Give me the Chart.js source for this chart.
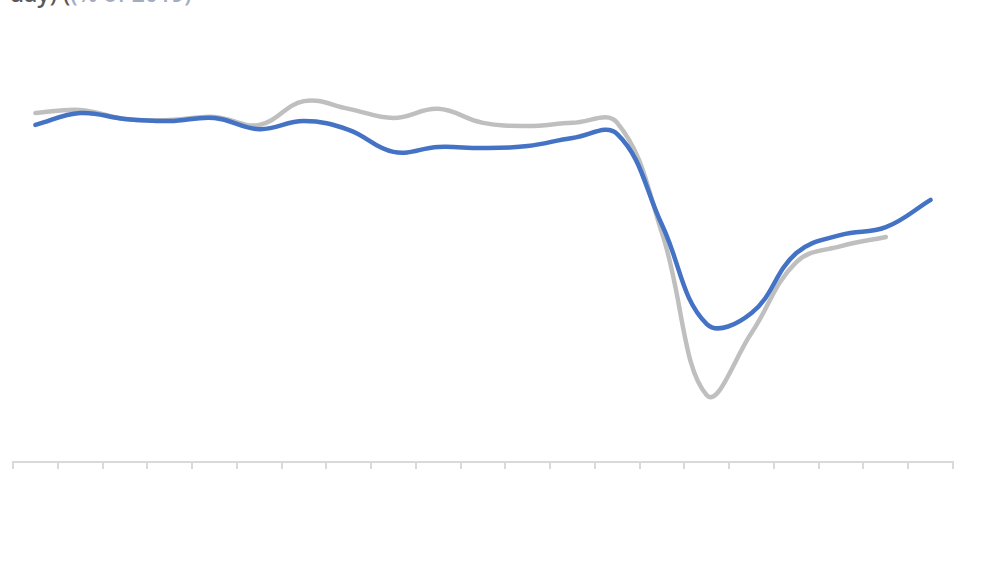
<!DOCTYPE html>
<html>
<head>
<meta charset="utf-8">
<script src="https://cdn.jsdelivr.net/npm/chart.js@4.4.1/dist/chart.umd.min.js"></script>
<style>
    html, body { margin: 0; padding: 0; background: #fff; overflow: hidden; }
    #wrap { position: relative; width: 1000px; height: 575px; }
    #title {
        position: absolute; left: -112px; top: -23px; white-space: nowrap;
        font-family: 'Open Sans', 'Noto Sans', sans-serif; font-size: 23px; font-weight: 600;
        color: #595959;
    }
    #title .sub { color: #a3adbf; }
    canvas { position: absolute; left: 0; top: 0; }
</style>
</head>
<body>
<div id="wrap">
    <div id="title">Diners per day) (<span class="sub">(% of 2019)</span></div>
    <canvas id="chart" width="1000" height="575"></canvas>
</div>
<script>
// 21 periods, no axis labels shown in the reference
const categories = ['P1', 'P2', 'P3', 'P4', 'P5', 'P6', 'P7', 'P8', 'P9', 'P10', 'P11',
    'P12', 'P13', 'P14', 'P15', 'P16', 'P17', 'P18', 'P19', 'P20', 'P21'];

const blueSeries = [96.3, 99.7, 98.0, 97.4, 98.3, 95.1, 97.4, 94.9, 88.6, 90.0, 89.7,
    90.3, 92.6, 93.7, 67.7, 39.4, 42.6, 59.7, 64.9, 67.1, 74.9];

const graySeries = [99.7, 100.6, 98.0, 97.7, 98.6, 96.3, 103.1, 100.9, 98.3, 100.9, 96.9,
    96.0, 96.9, 96.9, 65.4, 19.1, 36.9, 57.1, 61.7, 64.3, null];

const yMin = 0;
const yMax = 120;

new Chart(document.getElementById('chart'), {
    type: 'line',
    data: {
        labels: categories,
        datasets: [
            {
                label: 'Current',
                data: blueSeries,
                borderColor: '#4472C4',
                borderWidth: 4.5,
                pointRadius: 0,
                tension: 0.4,
                borderCapStyle: 'round',
                order: 1
            },
            {
                label: 'Previous',
                data: graySeries,
                borderColor: '#BFBFBF',
                borderWidth: 4.5,
                pointRadius: 0,
                tension: 0.4,
                borderCapStyle: 'round',
                order: 2
            }
        ]
    },
    options: {
        responsive: false,
        animation: false,
        layout: { padding: { left: 13, right: 47, top: 42, bottom: 106 } },
        plugins: {
            legend: { display: false },
            tooltip: { enabled: false }
        },
        scales: {
            x: {
                offset: true,
                grid: {
                    offset: true,
                    drawOnChartArea: false,
                    drawTicks: true,
                    tickLength: 7,
                    color: '#D9D9D9',
                    lineWidth: 2
                },
                border: { color: '#D9D9D9', width: 2 },
                ticks: { display: false }
            },
            y: {
                display: false,
                min: yMin,
                max: yMax
            }
        }
    }
});
</script>
</body>
</html>
